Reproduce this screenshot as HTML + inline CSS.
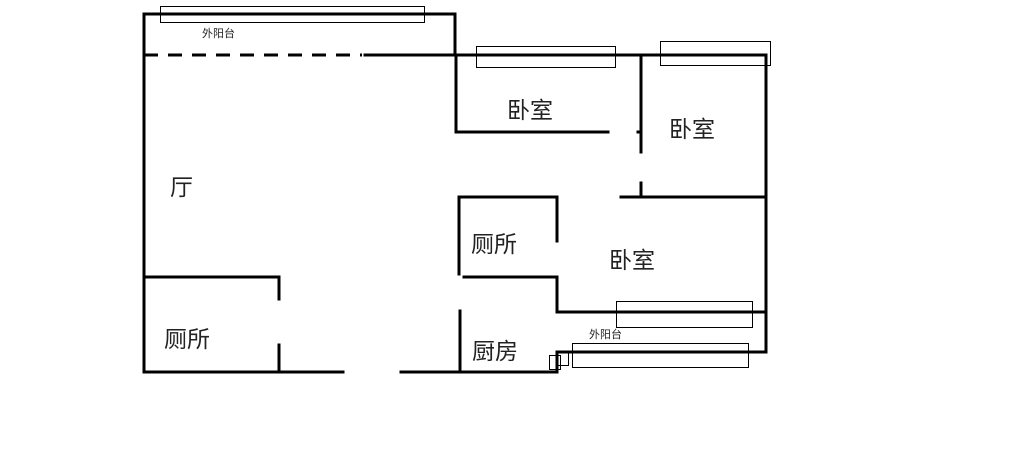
<!DOCTYPE html>
<html><head><meta charset="utf-8"><style>
body{margin:0;background:#fff;}
svg{display:block}
text{font-family:"Liberation Sans","Noto Sans CJK SC",sans-serif;fill:#222}
</style></head><body>
<svg width="1017" height="460" viewBox="0 0 1017 460" xmlns="http://www.w3.org/2000/svg">
<g stroke="#000" stroke-width="3" fill="none" stroke-linecap="square">
<path d="M144 14H455V55"/>
<path d="M144 14V372"/>
<path d="M144 55H362" stroke-dasharray="14 10" stroke-linecap="butt"/>
<path d="M365 55H766V352"/>
<path d="M456 55V132H608"/>
<path d="M641 55V152M638 132H641"/>
<path d="M641 183V197H766"/>
<path d="M459 197H557M621 197H766"/>
<path d="M459 197V274"/>
<path d="M557 197V241M557 280V312H766"/>
<path d="M464 277H557"/>
<path d="M460 311V372"/>
<path d="M144 277H279V299M279 345V372"/>
<path d="M144 372H343M401 372H557"/>
<path d="M557 352V372M557 352H766"/>
</g>
<g stroke="#000" stroke-width="1" fill="none">
<rect x="160.5" y="6.5" width="264" height="16"/>
<rect x="476.5" y="46.5" width="139" height="21"/>
<rect x="660.5" y="41.5" width="110" height="24"/>
<rect x="616.5" y="301.5" width="136" height="26"/>
<rect x="572.5" y="343.5" width="176" height="24"/>
<rect x="549.5" y="355.5" width="11" height="14"/>
<rect x="557.5" y="351.5" width="11" height="14"/>
</g>
<g font-size="23">
<text x="170" y="195">厅</text>
<text x="507" y="118">卧室</text>
<text x="669" y="137">卧室</text>
<text x="471" y="252">厕所</text>
<text x="609" y="268">卧室</text>
<text x="164" y="347">厕所</text>
<text x="472" y="359">厨房</text>
</g>
<g font-size="11">
<text x="202" y="37">外阳台</text>
<text x="589" y="338">外阳台</text>
</g>
</svg>
</body></html>
